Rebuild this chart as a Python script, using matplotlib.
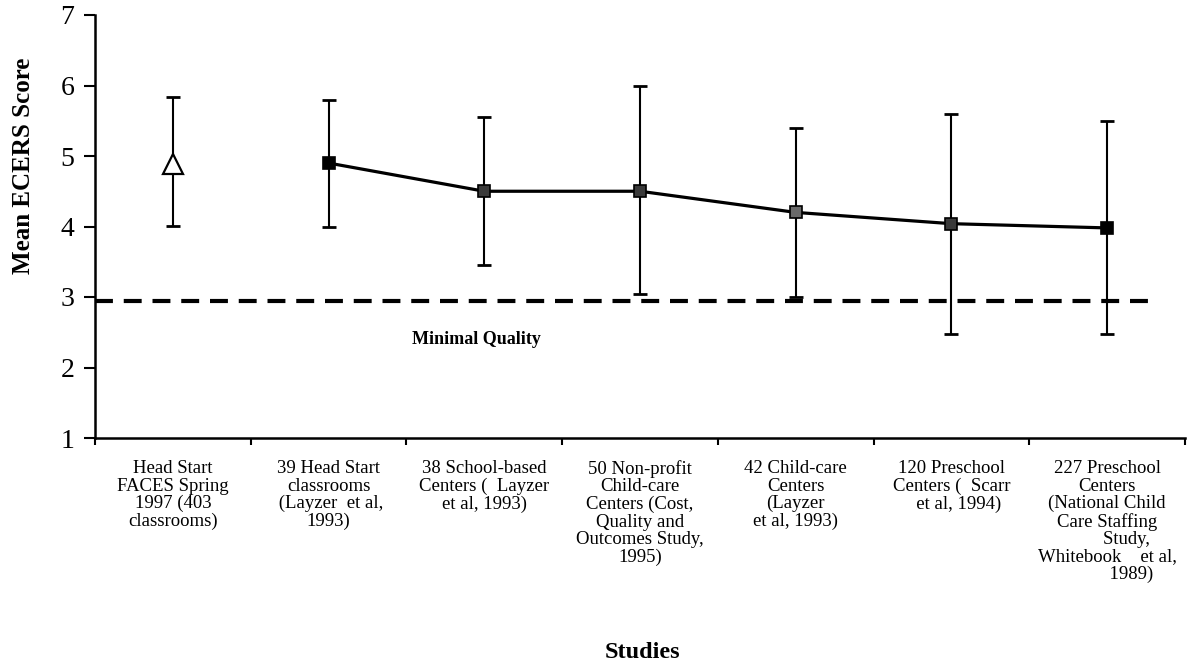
import matplotlib
matplotlib.use("Agg")
import matplotlib.pyplot as plt
from matplotlib.ticker import FixedLocator

plt.rcParams['font.family'] = ['Liberation Serif', 'DejaVu Serif']

# ---- data -----------------------------------------------------
studies = [
    "Head Start\nFACES Spring\n1997 (403\nclassrooms)",
    "39 Head Start\nclassrooms\n (Layzer  et al,\n1993)",
    "38 School-based\nCenters (  Layzer\net al, 1993)",
    "50 Non-profit\nChild-care\nCenters (Cost,\nQuality and\nOutcomes Study,\n1995)",
    "42 Child-care\nCenters\n(Layzer\net al, 1993)",
    "120 Preschool\nCenters (  Scarr\n   et al, 1994)",
    "227 Preschool\nCenters\n(National Child\nCare Staffing\n        Study,\nWhitebook    et al,\n          1989)",
]
mean_score = [4.89, 4.90, 4.50, 4.50, 4.20, 4.04, 3.98]
err_high = [5.83, 5.80, 5.56, 5.99, 5.40, 5.59, 5.49]
err_low = [4.01, 4.00, 3.45, 3.04, 3.00, 2.47, 2.47]
minimal_quality = 2.95
# ----------------------------------------------------------------

x = list(range(len(studies)))
yerr = [[m - lo for m, lo in zip(mean_score, err_low)],
        [hi - m for m, hi in zip(mean_score, err_high)]]

fig = plt.figure(figsize=(11.92, 6.70), dpi=100)
ax = fig.add_axes([95 / 1192, 1 - 438 / 670, (1185 - 95) / 1192, (438 - 15) / 670])

# error bars
ax.errorbar(x, mean_score, yerr=yerr, fmt='none', ecolor='black',
            elinewidth=1.5, capsize=5, capthick=2, zorder=2)

# FACES point on its own (open triangle)
ax.plot(x[0], mean_score[0], marker='^', ms=15, mfc='white', mec='black',
        mew=1.6, ls='none', zorder=4)

# the other studies joined by a line
ax.plot(x[1:], mean_score[1:], color='black', lw=2.3, zorder=3)
fills = ['black', '#3a3a3a', '#3a3a3a', '#6a6a6a', '#3a3a3a', 'black']
for xi, yi, fc in zip(x[1:], mean_score[1:], fills):
    ax.plot(xi, yi, marker='s', ms=9, mfc=fc, mec='black', mew=1.2, zorder=4)

# minimal quality line
ax.plot([-0.5, 6.32], [minimal_quality, minimal_quality], color='black',
        lw=3, dashes=(4.3, 2.6), zorder=1)
ax.text(1.95, 2.4, "Minimal Quality", fontsize=13, fontweight='bold',
        ha='center', va='center')

ax.set_xlim(-0.5, 6.5)
ax.set_ylim(1, 7)
ax.set_yticks(range(1, 8))
ax.set_xticks(x)
ax.set_xticklabels(studies, fontsize=13.5, linespacing=1.03, va='top')
ax.xaxis.set_minor_locator(FixedLocator([i - 0.5 for i in range(len(studies) + 1)]))
ax.tick_params(axis='x', which='major', length=0, pad=16)
ax.tick_params(axis='x', which='minor', length=5, width=1.5, direction='out')
ax.tick_params(axis='y', length=8, width=1.5, labelsize=20, pad=7)

for side in ['top', 'right']:
    ax.spines[side].set_visible(False)
for side in ['left', 'bottom']:
    ax.spines[side].set_linewidth(1.8)

ax.set_ylabel("Mean ECERS Score", fontsize=18, fontweight='bold')
ax.yaxis.set_label_coords(-60 / 1090, 0.643)
fig.text(642 / 1192, 1 - 653 / 670, "Studies", fontsize=17.5, fontweight='bold',
         ha='center', va='center')

fig.savefig("out.png", dpi=100)
